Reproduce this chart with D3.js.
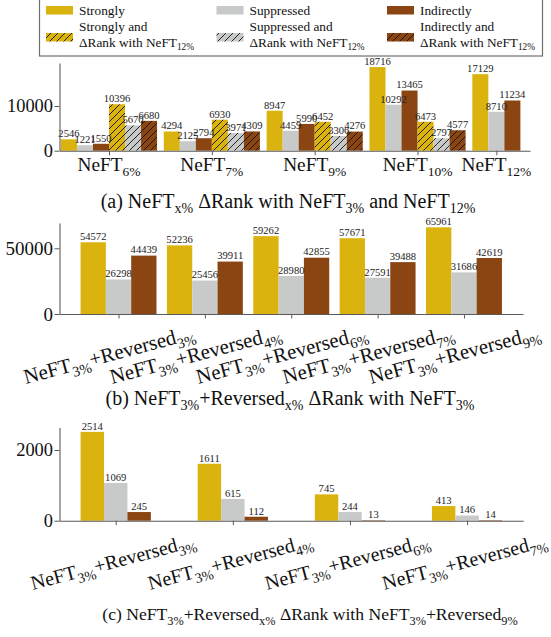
<!DOCTYPE html>
<html>
<head>
<meta charset="utf-8">
<script src="https://cdn.jsdelivr.net/npm/d3@7"></script>
<style>
  html, body { margin: 0; padding: 0; background: #fff; }
  svg, svg text, svg tspan { font-family: "Liberation Serif", Tinos, "Times New Roman", "DejaVu Serif", serif; }
  svg { display: block; }
</style>
</head>
<body>
<svg id="chart" width="551" height="637"></svg>
<script>
// ---------- data ----------
const seriesKeys = ["Strongly", "Suppressed", "Indirectly"];
const legendLabels = [
  "Strongly", "Suppressed", "Indirectly",
  "Strongly and\nΔRank with NeFT_{12%}",
  "Suppressed and\nΔRank with NeFT_{12%}",
  "Indirectly and\nΔRank with NeFT_{12%}"
];

// (a) NeFT_x% compared with NeFT_3% (plain) and NeFT_12% (hatched)
const aCategories = ["NeFT_{6%}", "NeFT_{7%}", "NeFT_{9%}", "NeFT_{10%}", "NeFT_{12%}"];
const aStrongly      = [2546, 4294, 8947, 18716, 17129];
const aSuppressed    = [1221, 2125, 4459, 10292, 8710];
const aIndirectly    = [1550, 2794, 5990, 13465, 11234];
const aStrongly12    = [10396, 6930, 6452, 6473, null];
const aSuppressed12  = [5670, 3971, 3306, 2797, null];
const aIndirectly12  = [6680, 4309, 4276, 4577, null];
const aTicks = [0, 10000];
const aCaption = "(a) NeFT_{x%} ΔRank with NeFT_{3%} and NeFT_{12%}";

// (b) NeFT_3%+Reversed_x% compared with NeFT_3%
const bCategories = ["NeFT_{3%}+Reversed_{3%}", "NeFT_{3%}+Reversed_{4%}", "NeFT_{3%}+Reversed_{6%}",
                     "NeFT_{3%}+Reversed_{7%}", "NeFT_{3%}+Reversed_{9%}"];
const bStrongly   = [54572, 52236, 59262, 57671, 65961];
const bSuppressed = [26298, 25456, 28980, 27591, 31686];
const bIndirectly = [44439, 39911, 42855, 39488, 42619];
const bTicks = [0, 50000];
const bCaption = "(b) NeFT_{3%}+Reversed_{x%} ΔRank with NeFT_{3%}";

// (c) NeFT_3%+Reversed_x% compared with NeFT_3%+Reversed_9%
const cCategories = ["NeFT_{3%}+Reversed_{3%}", "NeFT_{3%}+Reversed_{4%}",
                     "NeFT_{3%}+Reversed_{6%}", "NeFT_{3%}+Reversed_{7%}"];
const cStrongly   = [2514, 1611, 745, 413];
const cSuppressed = [1069, 615, 244, 146];
const cIndirectly = [245, 112, 13, 14];
const cTicks = [0, 2000];
const cCaption = "(c) NeFT_{3%}+Reversed_{x%} ΔRank with NeFT_{3%}+Reversed_{9%}";

// ---------- styles ----------
const FONT = '"Liberation Serif", Tinos, "Times New Roman", "DejaVu Serif", serif';
const palette = { Strongly: "#dab30e", Suppressed: "#c8cac9", Indirectly: "#8b4513" };
const axisColor = "#5a5a5a";
const svg = d3.select("#chart").attr("font-family", FONT);
const defs = svg.append("defs");
seriesKeys.forEach(k => {
  const p = defs.append("pattern").attr("id", "hatch-" + k)
    .attr("patternUnits", "userSpaceOnUse").attr("width", 7).attr("height", 7);
  p.append("rect").attr("width", 7).attr("height", 7).attr("fill", palette[k]);
  p.append("path").attr("d", "M-1,1L1,-1M0,7L7,0M6,8L8,6")
    .attr("stroke", "#111").attr("stroke-width", 0.9);
});
const fillOf = (key, hatch) => hatch ? `url(#hatch-${key})` : palette[key];

// write "text_{sub}" strings as tspans with lowered, smaller subscripts
function rich(textSel, str, size) {
  textSel.attr("font-family", FONT);
  const parts = str.split(/_\{([^}]*)\}/);
  let lowered = false;
  parts.forEach((s, i) => {
    if (s === "") return;
    const sub = i % 2 === 1;
    const t = textSel.append("tspan").text(s);
    if (sub) {
      t.attr("font-size", size * 0.7);
      if (!lowered) { t.attr("dy", size * 0.27); lowered = true; }
    } else {
      t.attr("font-size", size);
      if (lowered) { t.attr("dy", -size * 0.27); lowered = false; }
    }
  });
  return textSel;
}

function rotatedLabel(g, cx, topY, str, size, angle) {
  const outer = g.append("g");
  const t = outer.append("text").style("white-space", "pre").attr("fill", "#111");
  rich(t, str, size);
  const bb = t.node().getBBox();
  t.attr("transform", `translate(${-bb.x - bb.width / 2},${-bb.y - bb.height / 2})`);
  const a = angle * Math.PI / 180;
  const hh = (bb.width * Math.sin(a) + bb.height * Math.cos(a)) / 2;
  outer.attr("transform", `translate(${cx},${topY + hh}) rotate(${-angle})`);
}

function drawPanel(cfg) {
  const g = svg.append("g");
  const zero = cfg.y(0);
  g.selectAll("rect.bar").data(cfg.bars).join("rect").attr("class", "bar")
    .attr("x", d => cfg.barX(d)).attr("width", cfg.barW)
    .attr("y", d => cfg.y(d.value)).attr("height", d => zero - cfg.y(d.value))
    .attr("fill", d => fillOf(d.key, d.hatch));
  g.selectAll("text.val").data(cfg.bars).join("text").attr("class", "val")
    .attr("x", d => cfg.barX(d) + cfg.barW / 2).attr("y", d => cfg.y(d.value) - 2.2)
    .attr("text-anchor", "middle").attr("font-size", 10.6).attr("fill", "#222")
    .attr("font-family", FONT)
    .text(d => d.value);

  const left = cfg.x.range()[0];
  const yAxis = g.append("g").attr("transform", `translate(${left},0)`)
    .call(d3.axisLeft(cfg.y).tickValues(cfg.yTicks).tickSize(5).tickSizeOuter(0)
      .tickPadding(1.5).tickFormat(d3.format("d")));
  const xAxis = g.append("g").attr("transform", `translate(0,${zero})`)
    .call(d3.axisBottom(cfg.x).tickValues(cfg.centers).tickSize(4.5).tickSizeOuter(0).tickFormat(""));
  [yAxis, xAxis].forEach(ax => {
    ax.attr("font-family", FONT).attr("font-size", null);
    ax.select(".domain").attr("stroke", axisColor).attr("stroke-width", 1.1);
    ax.selectAll(".tick line").attr("stroke", axisColor).attr("stroke-width", 1);
  });
  yAxis.selectAll(".tick text").attr("font-size", cfg.tickSize).attr("fill", "#111").attr("font-family", FONT);

  cfg.categories.forEach((c, i) => {
    const cx = cfg.x(cfg.centers[i]);
    if (cfg.rotate) {
      rotatedLabel(g, cx + cfg.labelShift, zero + cfg.labelGap, c, cfg.labelSize, cfg.rotate);
    } else {
      const t = g.append("text").attr("x", cx).attr("y", zero + 20)
        .attr("text-anchor", "middle").attr("fill", "#111").style("white-space", "pre");
      rich(t, c, cfg.labelSize);
    }
  });

  const cap = g.append("text").attr("x", cfg.caption.x).attr("y", cfg.caption.y)
    .attr("text-anchor", "middle").attr("fill", "#111").style("white-space", "pre");
  rich(cap, cfg.caption.text, cfg.caption.size);
}

// ---------- panel (a): variable group sizes laid out in bar slots ----------
const aSeries = [
  { key: "Strongly", hatch: false, values: aStrongly },
  { key: "Suppressed", hatch: false, values: aSuppressed },
  { key: "Indirectly", hatch: false, values: aIndirectly },
  { key: "Strongly", hatch: true, values: aStrongly12 },
  { key: "Suppressed", hatch: true, values: aSuppressed12 },
  { key: "Indirectly", hatch: true, values: aIndirectly12 }
];
const aGap = 0.42;
const aBars = [], aCenters = [];
let slot = 0;
aCategories.forEach((c, i) => {
  const start = slot;
  aSeries.forEach(s => {
    const v = s.values[i];
    if (v == null) return;
    aBars.push({ key: s.key, hatch: s.hatch, value: v, slot: slot });
    slot += 1;
  });
  aCenters.push((start + slot) / 2);
  slot += aGap;
});
const aTotal = slot - aGap;
const aX = d3.scaleLinear().domain([-0.09, aTotal + 0.6]).range([59.5, 530]);
const aMax = d3.max(aBars, d => d.value);
const aY = d3.scaleLinear().domain([0, aMax * 1.05]).range([150.7, 62.9]);
drawPanel({
  bars: aBars, x: aX, y: aY, yTicks: aTicks, centers: aCenters, categories: aCategories,
  barX: d => aX(d.slot), barW: aX(1) - aX(0), tickSize: 18.4, labelSize: 19.3,
  caption: { text: aCaption, x: 288, y: 208, size: 20 }
});

// ---------- grouped panels (b) and (c) ----------
function grouped(values, categories, bw, left, right) {
  const n = categories.length;
  const lo = -1.5 * bw, hi = n - 1 + 1.5 * bw, m = 0.05 * (hi - lo);
  const x = d3.scaleLinear().domain([lo - m, hi + m]).range([left, right]);
  const bars = [];
  categories.forEach((c, i) => {
    seriesKeys.forEach((k, j) => bars.push({ key: k, hatch: false, value: values[j][i], pos: i + (j - 1) * bw }));
  });
  return { x, bars, centers: categories.map((c, i) => i), barW: x(bw) - x(0) };
}

const bG = grouped([bStrongly, bSuppressed, bIndirectly], bCategories, 0.293, 59.5, 523);
const bY = d3.scaleLinear().domain([0, d3.max(bStrongly) * 1.05]).range([314, 223]);
drawPanel({
  bars: bG.bars, x: bG.x, y: bY, yTicks: bTicks, centers: bG.centers, categories: bCategories,
  barX: d => bG.x(d.pos) - bG.barW / 2, barW: bG.barW,
  tickSize: 19, labelSize: 20.8, rotate: 15, labelGap: 6, labelShift: -9,
  caption: { text: bCaption, x: 290, y: 405, size: 20 }
});

const cG = grouped([cStrongly, cSuppressed, cIndirectly], cCategories, 0.2, 59.5, 523.3);
const cY = d3.scaleLinear().domain([0, d3.max(cStrongly) * 1.05]).range([520.7, 427.4]);
drawPanel({
  bars: cG.bars, x: cG.x, y: cY, yTicks: cTicks, centers: cG.centers, categories: cCategories,
  barX: d => cG.x(d.pos) - cG.barW / 2, barW: cG.barW,
  tickSize: 18.4, labelSize: 20, rotate: 15, labelGap: 8, labelShift: -2,
  caption: { text: cCaption, x: 310, y: 620, size: 17.6 }
});

// ---------- legend ----------
const lg = svg.append("g");
lg.append("rect").attr("x", 39.5).attr("y", -2).attr("width", 503).attr("height", 58)
  .attr("fill", "#fff").attr("stroke", "#6e6e6e").attr("stroke-width", 1.2);
legendLabels.forEach((lab, i) => {
  const col = i % 3, row = Math.floor(i / 3);
  const x0 = 46 + col * 170.5;
  const key = seriesKeys[col];
  const sy = row === 0 ? 6 : 33;
  lg.append("rect").attr("x", x0).attr("y", sy).attr("width", 27).attr("height", 8.5)
    .attr("fill", fillOf(key, row === 1));
  const lines = lab.split("\n");
  const base = row === 0 ? [15] : [31, 46.5];
  lines.forEach((ln, li) => {
    const t = lg.append("text").attr("x", x0 + 33).attr("y", base[li])
      .attr("fill", "#111").style("white-space", "pre");
    rich(t, ln, 13.3);
  });
});
</script>
</body>
</html>
